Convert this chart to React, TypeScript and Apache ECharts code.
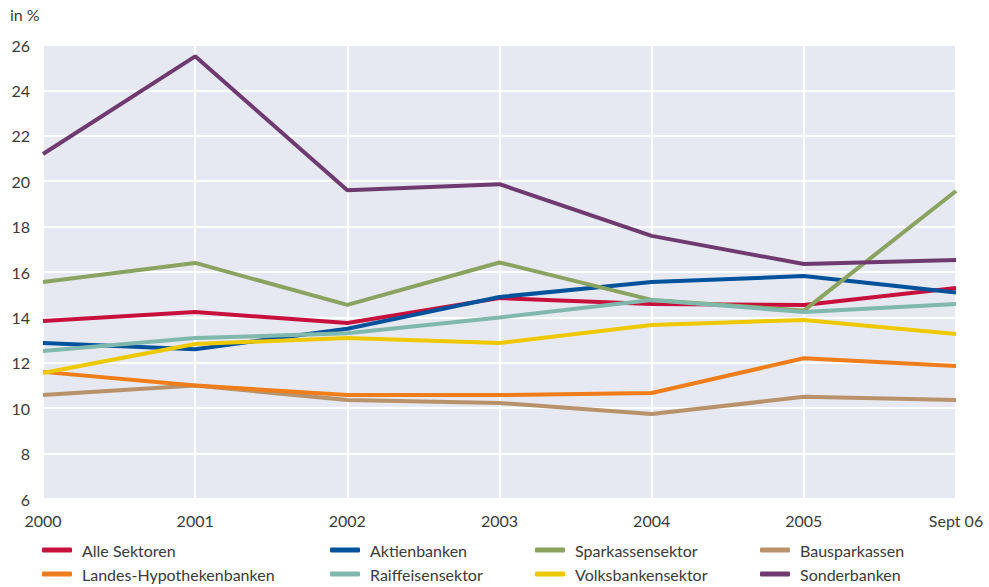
import React, { useEffect, useRef } from "react";
import * as echarts from "echarts";

const categories = ["2000", "2001", "2002", "2003", "2004", "2005", "Sept 06"];
const yTicks = [6, 8, 10, 12, 14, 16, 18, 20, 22, 24, 26];

const alleSektoren = [13.84, 14.24, 13.75, 14.85, 14.59, 14.55, 15.3];
const aktienbanken = [12.87, 12.6, 13.5, 14.9, 15.56, 15.82, 15.1];
const sparkassensektor = [15.56, 16.4, 14.55, 16.42, 14.77, 14.3, 19.57];
const bausparkassen = [10.58, 11.0, 10.36, 10.23, 9.74, 10.5, 10.36];
const landesHypo = [11.6, 11.0, 10.58, 10.58, 10.67, 12.2, 11.86];
const raiffeisen = [12.52, 13.09, 13.3, 14.0, 14.77, 14.24, 14.59];
const volksbanken = [11.55, 12.83, 13.09, 12.87, 13.67, 13.89, 13.27];
const sonderbanken = [21.2, 25.5, 19.6, 19.87, 17.59, 16.35, 16.53];

const seriesDefs = [
  { name: "Alle Sektoren", data: alleSektoren, color: "#c8103c" },
  { name: "Aktienbanken", data: aktienbanken, color: "#00529b" },
  { name: "Sparkassensektor", data: sparkassensektor, color: "#8aa360" },
  { name: "Bausparkassen", data: bausparkassen, color: "#b8926a" },
  { name: "Landes-Hypothekenbanken", data: landesHypo, color: "#ef7d1a" },
  { name: "Raiffeisensektor", data: raiffeisen, color: "#80b8ad" },
  { name: "Volksbankensektor", data: volksbanken, color: "#eec900" },
  { name: "Sonderbanken", data: sonderbanken, color: "#6e3a70" },
];

const FONT = "Lato, 'Open Sans', sans-serif";

export default function App() {
  const ref = useRef<HTMLDivElement>(null);
  useEffect(() => {
    if (!ref.current) return;
    const chart = echarts.init(ref.current, undefined, { renderer: "svg" });
    const colLefts = [42, 330, 535, 760];
    const rowTops = [542, 566];
    const legends = seriesDefs.map((s, i) => ({
      left: colLefts[i % 4],
      top: rowTops[Math.floor(i / 4)],
      padding: 0,
      itemWidth: 30,
      itemHeight: 5,
      icon: "roundRect",
      data: [s.name],
      textStyle: { fontSize: 16, color: "#3a3a3a", fontFamily: FONT, padding: [0, 0, 0, 5] },
    }));
    chart.setOption({
      animation: false,
      textStyle: { fontFamily: FONT },
      graphic: [
        {
          type: "text",
          left: 10,
          top: 6,
          style: { text: "in %", fontSize: 16, fill: "#3a3a3a", fontFamily: FONT },
        },
      ],
      legend: legends,
      grid: {
        left: 43,
        right: 33,
        top: 45,
        bottom: 88,
        show: true,
        backgroundColor: "#e6e8f2",
        borderWidth: 0,
      },
      xAxis: {
        type: "category",
        data: categories,
        boundaryGap: false,
        axisLine: { show: false },
        axisTick: { show: false },
        axisLabel: { fontSize: 16, color: "#3a3a3a", margin: 13, fontFamily: FONT },
        splitLine: { show: true, lineStyle: { color: "#ffffff", width: 2 } },
      },
      yAxis: {
        type: "value",
        min: yTicks[0],
        max: yTicks[yTicks.length - 1],
        interval: 2,
        axisLine: { show: false },
        axisTick: { show: false },
        axisLabel: { fontSize: 16, color: "#3a3a3a", margin: 13, fontFamily: FONT },
        splitLine: { show: true, lineStyle: { color: "#ffffff", width: 2 } },
      },
      series: seriesDefs.map((s) => ({
        name: s.name,
        type: "line",
        data: s.data,
        color: s.color,
        showSymbol: false,
        symbol: "none",
        lineStyle: { width: 4, color: s.color },
        itemStyle: { color: s.color },
      })),
    });
    return () => chart.dispose();
  }, []);
  return <div ref={ref} style={{ width: 989, height: 587, position: "absolute", left: 0, top: 0 }} />;
}
